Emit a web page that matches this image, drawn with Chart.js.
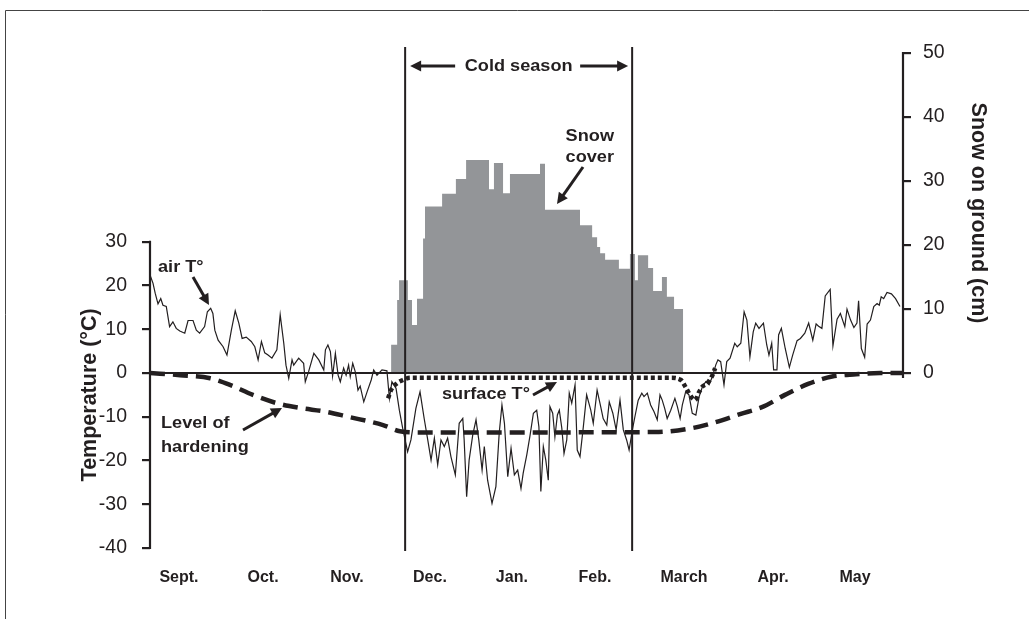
<!DOCTYPE html>
<html><head><meta charset="utf-8">
<script src="https://cdn.jsdelivr.net/npm/chart.js@4/dist/chart.umd.min.js"></script>
<style>html,body{margin:0;padding:0;background:#fff;}#wrap{width:1029px;height:619px;}</style>
</head><body><div id="wrap"><canvas id="c" width="1029" height="619"></canvas></div>
<script>
// ---- data (x = days since 1 Sept) ----
const monthLabels = ['Sept.','Oct.','Nov.','Dec.','Jan.','Feb.','March','Apr.','May'];
const monthLabelDays = [10.5, 41.0, 71.4, 101.5, 131.2, 161.3, 193.6, 225.9, 255.6];
const tempTicks = [-40,-30,-20,-10,0,10,20,30];
const snowTicks = [0,10,20,30,40,50];
const coldSeason = [92.5, 174.8];

const airDays = [0,1.1,1.9,2.9,3.9,4.7,5.9,7.1,8.3,9.5,10.8,12.6,13.8,15.6,16.8,18.0,19.8,20.8,22.0,22.8,23.5,24.7,26.5,27.9,29.5,30.9,32.2,33.4,34.9,36.7,38.0,39.2,40.4,41.6,42.8,44.2,46.0,47.2,48.5,49.3,50.3,51.5,52.1,53.9,55.7,56.3,57.5,59.4,61.2,63.0,63.6,64.5,65.4,66.2,67.2,68.2,69.0,70.2,71.1,72.0,72.6,73.5,74.4,75.4,76.2,77.5,78.7,80.2,81.1,82.3,84.1,85.9,86.8,87.7,89.2,90.4,91.6,93.4,94.6,96.4,97.9,99.4,100.7,101.9,103.1,104.3,105.5,106.7,107.9,109.1,110.7,112.1,113.4,113.9,114.8,115.7,117.0,118.2,119.2,120.4,121.2,122.4,124.0,125.4,126.6,127.6,128.5,129.7,130.9,132.1,133.3,134.5,135.3,136.6,137.8,139.0,140.2,141.0,141.7,142.6,143.5,144.4,145.0,146.0,146.8,147.7,148.4,149.3,150.1,151.1,152.0,152.9,154.1,154.9,155.9,157.1,158.3,159.8,160.7,162.1,163.4,164.3,165.6,166.5,167.8,169.0,170.4,171.6,172.8,173.7,175.0,175.8,177.0,178.3,179.1,180.3,181.5,182.7,183.9,184.9,185.7,186.6,187.5,188.8,190.3,191.2,192.2,193.0,194.2,195.4,196.6,197.9,199.1,200.3,201.5,202.7,203.9,205.1,205.9,206.9,208.1,209.1,210.3,212.0,212.9,214.2,215.4,216.4,217.5,218.7,219.6,220.8,222.4,223.6,224.4,225.4,226.1,227.3,227.9,228.9,230.3,231.8,233.0,234.6,235.8,237.4,238.8,240.3,241.5,242.4,243.6,244.8,246.6,247.6,249.1,250.3,251.9,252.7,254.0,255.2,256.3,256.9,257.9,259.1,260.0,261.2,262.4,263.6,264.4,265.1,266.0,267.2,268.8,270.3,271.9];
const airTemp = [22.4,20.5,18.2,15.8,17,15.5,15.2,10.6,11.7,10.2,9.6,9.1,12,12,9.8,9.1,10.6,14,14.8,13.6,9.8,7.5,6,4.1,9.8,14.2,11.4,7.9,8.2,7.2,6,3,7.2,4.6,4.1,3.4,5.3,13.3,6.8,1.8,-1.2,3,1.8,3.4,2.2,-2,0.3,4.5,3,0.7,5.3,6.4,4.9,-0.7,4.5,-0.5,-2,1.1,-0.5,1.8,-0.8,2.2,0.3,-3.9,-3,-6.6,-4.3,-1.6,0.7,-0.5,0.7,0.5,-5.8,-2,-3.5,-8.5,-12.6,-18,-15.3,-8.1,-4.3,-10.4,-15.3,-19.9,-14.9,-21,-15.3,-16.8,-14.9,-19.1,-23.3,-11.5,-10.4,-15.3,-28.3,-19.9,-14.2,-10.7,-15.3,-22.2,-16.8,-24.5,-29.8,-26,-13.8,-7.3,-11.5,-23.7,-17.2,-23.3,-22.2,-26.4,-22.9,-18.7,-14.2,-9.2,-8.5,-12.3,-27.1,-16.8,-19.9,-24.5,-7.7,-9.2,-14.6,-9.6,-8.5,-12.6,-18.4,-15.3,-4.6,-6.9,-2.7,-17.6,-19.1,-12.3,-5,-8.5,-11.5,-3.9,-7.7,-10.4,-11.9,-6.6,-9.2,-13,-6.2,-13,-15.3,-17.6,-12.6,-10,-6.2,-4.6,-5.4,-4.6,-7.3,-8.8,-10.7,-5,-6.2,-8.1,-10.4,-8.5,-5.8,-7.7,-10.4,-7.3,-4.3,-5,-9.2,-9.6,-5.4,-3.1,-2,-2.7,-0.8,1.8,3,2.6,-2.7,2.6,3.4,6.8,6,6.8,14,12.1,3.7,9.4,11.4,10.2,11.4,6.4,4.1,6.8,0.7,0.7,8.7,10.2,5.6,1.3,4.1,7.4,7.9,9.1,11.4,7.5,11.2,10.7,10.2,17.6,19.1,6.2,12.3,13.6,10.6,14.6,12.1,10.4,11.4,16.5,5.6,3.6,11.2,12.1,15.2,15.9,15.5,17.4,17,18.4,18.1,17,15.2];

const hardDays = [0,10.9,21.8,29,37.3,46,54.4,63.4,71.8,84.5,90.6,97.9,183.1,196.5,204.8,213.9,222.3,230.2,238.6,247.3,256,264.7,273];
const hardTemp = [0,-0.5,-1.2,-2.7,-5,-6.9,-8,-8.8,-10,-11.9,-13.3,-13.6,-13.5,-12.6,-11.3,-9.4,-7.7,-5,-2.5,-0.8,-0.3,0,0];

const surfDays = [86.3,87.4,89.6,91.7,94.3,188.9,192.5,194.4,196.2,197.6,199.1,200.3,202.0,203.9,204.9];
const surfTemp = [-5.8,-3.9,-2.3,-1.6,-1.1,-1.1,-1.6,-3.5,-5.4,-6.2,-4.3,-3.1,-2.4,-0.5,1.1];

const snowDays = [87.4,89.6,90.3,93.5,95.0,96.8,99.0,99.7,105.9,110.9,114.6,122.9,124.7,128.0,130.5,141.4,143.2,155.9,160.3,162.1,163.2,165.0,170.0,174.0,175.8,176.9,180.6,182.4,185.6,187.4,190.0,193.3];
const snowDepth = [4.4,11.4,14.5,11.4,7.5,11.6,21,26,28,30.3,33.3,28.7,32.8,28.1,31.1,32.7,25.5,23.1,21.2,19.7,18.7,17.7,16.3,18.6,14.5,18.4,16.4,12.8,15,11.9,10,0];

// ---- styling ----
const FONT = '"Liberation Sans", Arial, sans-serif';
const INK = '#231f20';
const pts = (xs, ys) => xs.map((x, i) => ({x: x, y: ys[i]}));

function arrow(ctx, x1, y1, x2, y2) {
  const a = Math.atan2(y2 - y1, x2 - x1), hl = 11, hw = 5.5;
  ctx.save();
  ctx.strokeStyle = INK; ctx.fillStyle = INK; ctx.lineWidth = 3;
  ctx.beginPath(); ctx.moveTo(x1, y1);
  ctx.lineTo(x2 - Math.cos(a) * hl * 0.8, y2 - Math.sin(a) * hl * 0.8); ctx.stroke();
  ctx.beginPath(); ctx.moveTo(x2, y2);
  ctx.lineTo(x2 - Math.cos(a) * hl + Math.sin(a) * hw, y2 - Math.sin(a) * hl - Math.cos(a) * hw);
  ctx.lineTo(x2 - Math.cos(a) * hl - Math.sin(a) * hw, y2 - Math.sin(a) * hl + Math.cos(a) * hw);
  ctx.closePath(); ctx.fill();
  ctx.restore();
}
function label(ctx, txt, x, y, align, size, rot, base, sx) {
  ctx.save();
  ctx.translate(x, y);
  if (rot) ctx.rotate(rot);
  ctx.scale(sx || 1.1, 1);
  ctx.font = 'bold ' + size + 'px ' + FONT;
  ctx.fillStyle = INK; ctx.textAlign = align || 'center'; ctx.textBaseline = base || 'alphabetic';
  ctx.fillText(txt, 0, 0);
  ctx.restore();
}

const overlay = {
  id: 'overlay',
  afterDatasetsDraw(chart) {
    const ctx = chart.ctx, xs = chart.scales.x, ys = chart.scales.y, y2 = chart.scales.y2;
    const L = chart.chartArea.left, R = chart.chartArea.right;
    ctx.save();
    ctx.strokeStyle = INK; ctx.lineCap = 'butt';
    // axes
    ctx.lineWidth = 2.2;
    ctx.beginPath();
    ctx.moveTo(L, ys.getPixelForValue(tempTicks[tempTicks.length - 1]) - 1);
    ctx.lineTo(L, ys.getPixelForValue(tempTicks[0]) + 1);
    ctx.moveTo(R, y2.getPixelForValue(snowTicks[snowTicks.length - 1]) - 1);
    ctx.lineTo(R, y2.getPixelForValue(0) + 5);
    ctx.moveTo(L, ys.getPixelForValue(0));
    ctx.lineTo(R, ys.getPixelForValue(0));
    ctx.stroke();
    // cold season bounds
    ctx.lineWidth = 2;
    const c0 = xs.getPixelForValue(coldSeason[0]), c1 = xs.getPixelForValue(coldSeason[1]);
    ctx.beginPath();
    ctx.moveTo(c0, 47); ctx.lineTo(c0, 551);
    ctx.moveTo(c1, 47); ctx.lineTo(c1, 551);
    ctx.stroke();
    ctx.restore();

    // cold season arrows
    const ym = 66;
    label(ctx, 'Cold season', (c0 + c1) / 2, ym, 'center', 16.5, 0, 'middle');
    arrow(ctx, c0 + 50, ym, c0 + 5, ym);
    arrow(ctx, c1 - 52, ym, c1 - 4, ym);

    // annotations
    label(ctx, 'Snow', 614, 141, 'right', 16.5);
    label(ctx, 'cover', 614, 162, 'right', 16.5);
    arrow(ctx, 583, 167, 557, 204);
    label(ctx, 'air T°', 158, 272, 'left', 16.5);
    arrow(ctx, 193, 277, 209, 305);
    label(ctx, 'surface T°', 442, 399, 'left', 16.5);
    arrow(ctx, 533, 395, 557, 382);
    label(ctx, 'Level of', 161, 428, 'left', 16.5);
    label(ctx, 'hardening', 161, 452, 'left', 16.5);
    arrow(ctx, 243, 430, 282, 408);

    // axis titles
    const tMid = (ys.getPixelForValue(tempTicks[0]) + ys.getPixelForValue(tempTicks[tempTicks.length - 1])) / 2;
    label(ctx, 'Temperature (°C)', 90, tMid, 'center', 21.5, -Math.PI / 2, 'middle', 1);
    const sMid = (y2.getPixelForValue(0) + y2.getPixelForValue(50)) / 2;
    label(ctx, 'Snow on ground (cm)', 978, sMid, 'center', 21.5, Math.PI / 2, 'middle', 1);

    // frame
    ctx.save();
    ctx.strokeStyle = '#444'; ctx.lineWidth = 1;
    ctx.beginPath();
    ctx.moveTo(5.5, 619); ctx.lineTo(5.5, 10.5); ctx.lineTo(1029, 10.5);
    ctx.stroke();
    ctx.restore();
  }
};

new Chart(document.getElementById('c'), {
  type: 'line',
  data: { datasets: [
    { label: 'Snow cover', yAxisID: 'y2', data: pts(snowDays, snowDepth), stepped: true, fill: 'origin',
      backgroundColor: '#939598', borderWidth: 0, borderColor: 'rgba(0,0,0,0)', pointRadius: 0, order: 4 },
    { label: 'Level of hardening', yAxisID: 'y', data: pts(hardDays, hardTemp), borderColor: INK, borderWidth: 4.5,
      borderDash: [15, 8], cubicInterpolationMode: 'monotone', pointRadius: 0, fill: false, order: 3 },
    { label: 'surface T°', yAxisID: 'y', data: pts(surfDays, surfTemp), borderColor: INK, borderWidth: 4.5,
      borderDash: [4, 3], cubicInterpolationMode: 'monotone', pointRadius: 0, fill: false, order: 2 },
    { label: 'air T°', yAxisID: 'y', data: pts(airDays, airTemp), borderColor: INK, borderWidth: 1.2,
      tension: 0, pointRadius: 0, fill: false, order: 1 }
  ]},
  options: {
    responsive: false, animation: false, devicePixelRatio: 1,
    layout: { padding: { top: 53, left: 0, right: 0, bottom: 0 } },
    plugins: { legend: { display: false }, tooltip: { enabled: false }, title: { display: false } },
    scales: {
      x: {
        type: 'linear', min: 0, max: 273,
        afterBuildTicks: s => { s.ticks = monthLabelDays.map(v => ({ value: v })); },
        afterFit: s => { s.height = 71; },
        ticks: { callback: (v, i) => monthLabels[i], autoSkip: false, maxRotation: 0, minRotation: 0, padding: 20,
          font: { family: FONT, size: 16, weight: 'bold' }, color: INK },
        grid: { display: false, drawTicks: false }, border: { display: false }
      },
      y: {
        position: 'left', min: -40, max: 73.143,
        afterBuildTicks: s => { s.ticks = tempTicks.map(v => ({ value: v })); },
        afterFit: s => { s.width = 150; },
        ticks: { font: { family: FONT, size: 19.5 }, color: INK, padding: 15 },
        grid: { drawOnChartArea: false, drawTicks: true, tickLength: 8, color: INK, lineWidth: 2.2 },
        border: { display: false }
      },
      y2: {
        position: 'right', min: -27.34, max: 50,
        afterBuildTicks: s => { s.ticks = snowTicks.map(v => ({ value: v })); },
        afterFit: s => { s.width = 126; },
        ticks: { font: { family: FONT, size: 19.5 }, color: INK, padding: 12 },
        grid: { drawOnChartArea: false, drawTicks: true, tickLength: 8, color: INK, lineWidth: 2.2 },
        border: { display: false }
      }
    }
  },
  plugins: [overlay]
});
</script></body></html>
